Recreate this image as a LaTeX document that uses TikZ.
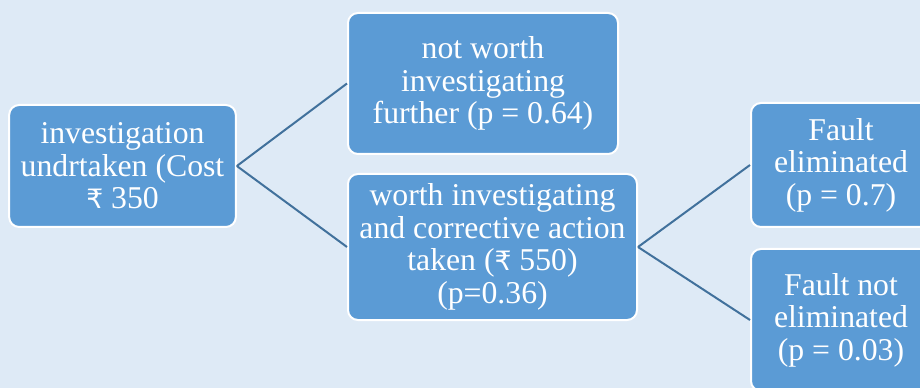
\documentclass[tikz,border=0pt]{standalone}
\usepackage{fontspec}
\setmainfont{Liberation Serif}
\newfontfamily\boxfont{Liberation Serif}
\newfontfamily\rupeefont{DejaVu Sans}
\newcommand{\rupee}{{\rupeefont\fontsize{20}{24.4}\selectfont ₹}}
\usetikzlibrary{positioning}

\definecolor{bgblue}{RGB}{222,234,246}
\definecolor{boxblue}{RGB}{91,155,213}
\definecolor{linkblue}{RGB}{65,113,156}

\tikzset{
  box/.style={draw=white, line width=1.5pt, fill=boxblue, rounded corners=7.5pt,
    text=white, align=center, inner sep=0pt,
    font=\boxfont\fontsize{23.8}{24.4}\selectfont},
  link/.style={draw=linkblue, line width=1.5pt}
}

\begin{document}
\begin{tikzpicture}[x=0.75pt, y=-0.75pt]
  \fill[bgblue] (0,0) rectangle (920,388);
  \useasboundingbox (0,0) rectangle (920,388);

  \node[box, minimum width=170pt, minimum height=91.5pt] (invest) at (122.5,166)
    {investigation\\undrtaken (Cost\\\rupee{} 350};
  \node[box, minimum width=202.5pt, minimum height=105.75pt] (notworth) at (483,83.5)
    {not worth\\investigating\\further (p = 0.64)};
  \node[box, minimum width=216.75pt, minimum height=109.5pt] (worth) at (492.5,247)
    {worth investigating\\and corrective action\\taken (\rupee{} 550)\\(p=0.36)};
  \node[box, minimum width=135pt, minimum height=93pt] (elim) at (841,165)
    {Fault\\eliminated\\(p = 0.7)};
  \node[box, minimum width=135pt, minimum height=106.5pt] (notelim) at (841,320)
    {Fault not\\eliminated\\(p = 0.03)};

  % branches
  \draw[link] (invest.east) -- (notworth.west);
  \draw[link] (invest.east) -- (worth.west);
  \draw[link] (worth.east) -- (elim.west);
  \draw[link] (worth.east) -- (notelim.west);
\end{tikzpicture}
\end{document}
